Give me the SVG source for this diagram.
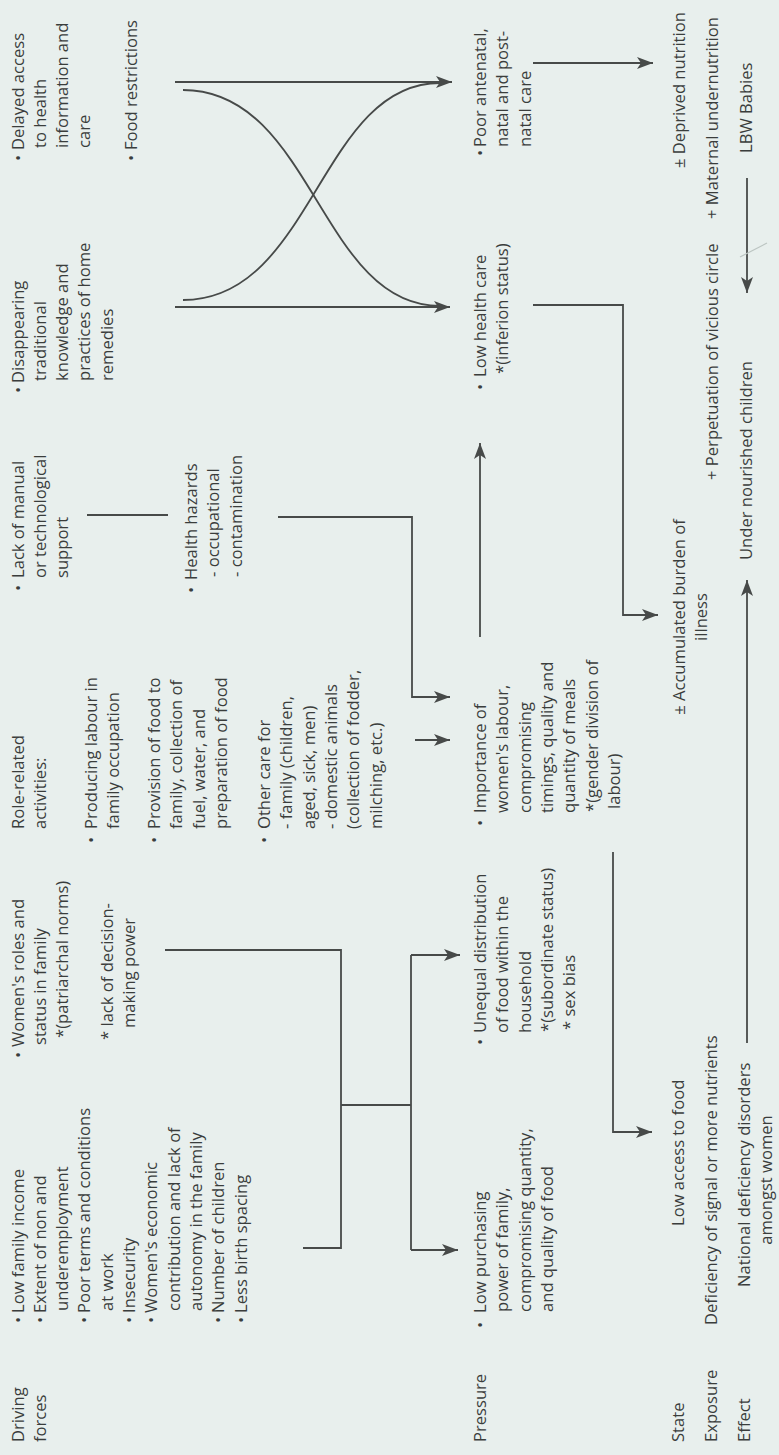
<svg xmlns="http://www.w3.org/2000/svg" width="779" height="1455" viewBox="0 0 779 1455">
<defs>
<style>
.t{font-family:"Open Sans","Liberation Sans",sans-serif;font-size:16.6px;fill:#3a3d3c}
.m{text-anchor:middle}
.c{fill:none;stroke:#474a49;stroke-width:1.8}
.a{marker-end:url(#ah)}
</style>
<marker id="ah" viewBox="0 0 16 12" refX="16" refY="6" markerWidth="16" markerHeight="12" markerUnits="userSpaceOnUse" orient="auto">
<path d="M0,0 L16,6 L0,12 L4,6 z" fill="#474a49"/>
</marker>
</defs>
<rect width="779" height="1455" fill="#e8efed"/>

<g id="connectors">
<path class="c" d="M165,950 H341 V1248 H303"/>
<path class="c" d="M341,1105 H411 M411,955 V1250"/>
<path class="c a" d="M411,955 H460"/>
<path class="c a" d="M411,1250 H458"/>
<path class="c" d="M87,515 H168"/>
<path class="c a" d="M278,517 H412 V697 H450"/>
<path class="c a" d="M415,740 H450"/>
<path class="c a" d="M480,637 V443"/>
<path class="c a" d="M175,82 H452"/>
<path class="c a" d="M175,307 H450"/>
<path class="c" d="M183,90 C313,90 320,306 440,306"/>
<path class="c" d="M183,300 C313,300 320,83 440,83"/>
<path class="c a" d="M533,63 H653"/>
<path class="c a" d="M533,305 H623 V615 H658"/>
<path class="c a" d="M613,852 V1132 H652"/>
<path class="c a" d="M747,1043 V580"/>
<path class="c a" d="M747,178 V293"/>
<path d="M740,257 L767,243" stroke="#bcc5c2" stroke-width="1.2" fill="none"/>
</g>

<g id="label-driving-forces"><text class="t" transform="rotate(-90)"><tspan x="-1442" y="23.5">Driving</tspan><tspan x="-1442" y="45.8">forces</tspan></text></g>
<g id="label-pressure"><text class="t" transform="rotate(-90)" x="-1442" y="486">Pressure</text></g>
<g id="label-state"><text class="t" transform="rotate(-90)" x="-1442" y="683.5">State</text></g>
<g id="label-exposure"><text class="t" transform="rotate(-90)" x="-1442" y="717">Exposure</text></g>
<g id="label-effect"><text class="t" transform="rotate(-90)" x="-1442" y="750">Effect</text></g>

<g id="node-economic"><text class="t" transform="rotate(-90)">
<tspan x="-1323" y="23.5">•</tspan><tspan x="-1313" y="23.5">Low family income</tspan>
<tspan x="-1323" y="45.8">•</tspan><tspan x="-1313" y="45.8">Extent of non and</tspan>
<tspan x="-1311" y="68.1">underemployment</tspan>
<tspan x="-1323" y="90.4">•</tspan><tspan x="-1313" y="90.4">Poor terms and conditions</tspan>
<tspan x="-1311" y="112.7">at work</tspan>
<tspan x="-1323" y="135">•</tspan><tspan x="-1313" y="135">Insecurity</tspan>
<tspan x="-1323" y="157.3">•</tspan><tspan x="-1313" y="157.3">Women's economic</tspan>
<tspan x="-1311" y="179.6">contribution and lack of</tspan>
<tspan x="-1311" y="201.9">autonomy in the family</tspan>
<tspan x="-1323" y="224.2">•</tspan><tspan x="-1313" y="224.2">Number of children</tspan>
<tspan x="-1323" y="246.5">•</tspan><tspan x="-1313" y="246.5">Less birth spacing</tspan>
</text></g>

<g id="node-roles"><text class="t" transform="rotate(-90)">
<tspan x="-1058" y="23.5">•</tspan><tspan x="-1047" y="23.5">Women's roles and</tspan>
<tspan x="-1045" y="45.8">status in family</tspan>
<tspan x="-1038" y="68.1">*(patriarchal norms)</tspan>
<tspan x="-1040" y="112.7">* lack of decision-</tspan>
<tspan x="-1028" y="135">making power</tspan>
</text></g>

<g id="node-activities"><text class="t" transform="rotate(-90)">
<tspan x="-829" y="23.5">Role-related</tspan>
<tspan x="-829" y="45.8">activities:</tspan>
<tspan x="-843" y="97">•</tspan><tspan x="-829" y="97">Producing labour in</tspan>
<tspan x="-829" y="119.3">family occupation</tspan>
<tspan x="-843" y="160">•</tspan><tspan x="-829" y="160">Provision of food to</tspan>
<tspan x="-829" y="182.3">family, collection of</tspan>
<tspan x="-829" y="204.6">fuel, water, and</tspan>
<tspan x="-829" y="226.9">preparation of food</tspan>
<tspan x="-843" y="270">•</tspan><tspan x="-829" y="270">Other care for</tspan>
<tspan x="-829" y="292.3">- family (children,</tspan>
<tspan x="-829" y="314.6">aged, sick, men)</tspan>
<tspan x="-829" y="336.9">- domestic animals</tspan>
<tspan x="-829" y="359.2">(collection of fodder,</tspan>
<tspan x="-829" y="381.5">milching, etc.)</tspan>
</text></g>

<g id="node-support"><text class="t" transform="rotate(-90)">
<tspan x="-591" y="23.5">•</tspan><tspan x="-578" y="23.5">Lack of manual</tspan>
<tspan x="-578" y="45.8">or technological</tspan>
<tspan x="-578" y="68.1">support</tspan>
</text></g>

<g id="node-hazards"><text class="t" transform="rotate(-90)">
<tspan x="-593" y="197">•</tspan><tspan x="-580" y="197">Health hazards</tspan>
<tspan x="-577" y="219.3">- occupational</tspan>
<tspan x="-577" y="241.6">- contamination</tspan>
</text></g>

<g id="node-remedies"><text class="t" transform="rotate(-90)">
<tspan x="-393" y="23.5">•</tspan><tspan x="-383" y="23.5">Disappearing</tspan>
<tspan x="-381" y="45.8">traditional</tspan>
<tspan x="-381" y="68.1">knowledge and</tspan>
<tspan x="-381" y="90.4">practices of home</tspan>
<tspan x="-381" y="112.7">remedies</tspan>
</text></g>

<g id="node-delayed"><text class="t" transform="rotate(-90)">
<tspan x="-161" y="23.5">•</tspan><tspan x="-150" y="23.5">Delayed access</tspan>
<tspan x="-148" y="45.8">to health</tspan>
<tspan x="-148" y="68.1">information and</tspan>
<tspan x="-148" y="90.4">care</tspan>
</text></g>

<g id="node-food-restrictions"><text class="t" transform="rotate(-90)">
<tspan x="-161" y="137">•</tspan><tspan x="-150" y="137">Food restrictions</tspan>
</text></g>

<g id="node-purchasing"><text class="t" transform="rotate(-90)">
<tspan x="-1328" y="486">•</tspan><tspan x="-1313" y="486">Low purchasing</tspan>
<tspan x="-1312" y="508.3">power of family,</tspan>
<tspan x="-1312" y="530.6">compromising quantity,</tspan>
<tspan x="-1312" y="552.9">and quality of food</tspan>
</text></g>

<g id="node-distribution"><text class="t" transform="rotate(-90)">
<tspan x="-1045" y="486">•</tspan><tspan x="-1033" y="486">Unequal distribution</tspan>
<tspan x="-1033" y="508.3">of food within the</tspan>
<tspan x="-1033" y="530.6">household</tspan>
<tspan x="-1032" y="552.9">*(subordinate status)</tspan>
<tspan x="-1030" y="575.2">* sex bias</tspan>
</text></g>

<g id="node-labour"><text class="t" transform="rotate(-90)">
<tspan x="-826" y="486">•</tspan><tspan x="-813" y="486">Importance of</tspan>
<tspan x="-813" y="508.3">women's labour,</tspan>
<tspan x="-813" y="530.6">compromising</tspan>
<tspan x="-813" y="552.9">timings, quality and</tspan>
<tspan x="-813" y="575.2">quantity of meals</tspan>
<tspan x="-812" y="597.5">*(gender division of</tspan>
<tspan x="-809" y="619.8">labour)</tspan>
</text></g>

<g id="node-health-care"><text class="t" transform="rotate(-90)">
<tspan x="-390" y="486">•</tspan><tspan x="-377" y="486">Low health care</tspan>
<tspan x="-374" y="508.3">*(inferion status)</tspan>
</text></g>

<g id="node-antenatal"><text class="t" transform="rotate(-90)">
<tspan x="-156" y="486">•</tspan><tspan x="-147" y="486">Poor antenatal,</tspan>
<tspan x="-147" y="508.3">natal and post-</tspan>
<tspan x="-147" y="530.6">natal care</tspan>
</text></g>

<g id="node-low-access"><text class="t" transform="rotate(-90)" x="-1226" y="683.5">Low access to food</text></g>
<g id="node-burden"><text class="t m" transform="rotate(-90)"><tspan x="-617" y="684.5">± Accumulated burden of</tspan><tspan x="-617" y="706.8">illness</tspan></text></g>
<g id="node-deprived"><text class="t" transform="rotate(-90)" x="-168" y="684.5">± Deprived nutrition</text></g>

<g id="node-deficiency"><text class="t" transform="rotate(-90)" x="-1325" y="717">Deficiency of signal or more nutrients</text></g>
<g id="node-perpetuation"><text class="t" transform="rotate(-90)" x="-480" y="718">+ Perpetuation of vicious circle</text></g>
<g id="node-maternal"><text class="t" transform="rotate(-90)" x="-219" y="718">+ Maternal undernutrition</text></g>

<g id="node-ndd"><text class="t" transform="rotate(-90)"><tspan x="-1287" y="750">National deficiency disorders</tspan><tspan class="m" x="-1180" y="772">amongst women</tspan></text></g>
<g id="node-children"><text class="t" transform="rotate(-90)" x="-560" y="752">Under nourished children</text></g>
<g id="node-lbw"><text class="t" transform="rotate(-90)" x="-153" y="752">LBW Babies</text></g>
</svg>
